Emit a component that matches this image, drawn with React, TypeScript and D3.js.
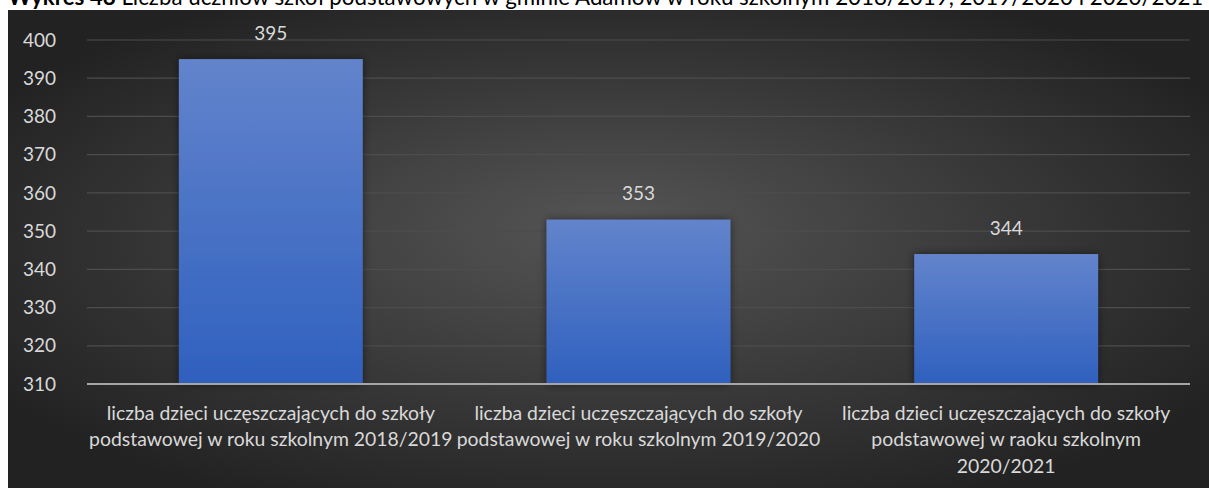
import React from "react";
import * as d3 from "d3";

const categories = [
  "liczba dzieci uczęszczających do szkoły podstawowej w roku szkolnym 2018/2019",
  "liczba dzieci uczęszczających do szkoły podstawowej w roku szkolnym 2019/2020",
  "liczba dzieci uczęszczających do szkoły podstawowej w raoku szkolnym 2020/2021",
];
const categoryLines = [
  ["liczba dzieci uczęszczających do szkoły", "podstawowej w roku szkolnym 2018/2019"],
  ["liczba dzieci uczęszczających do szkoły", "podstawowej w roku szkolnym 2019/2020"],
  ["liczba dzieci uczęszczających do szkoły", "podstawowej w raoku szkolnym", "2020/2021"],
];
const values = [395, 353, 344];
const yTicks = [310, 320, 330, 340, 350, 360, 370, 380, 390, 400];
const titleBold = "Wykres 48";
const titleRest = " Liczba uczniów szkół podstawowych w gminie Adamów w roku szkolnym 2018/2019, 2019/2020 i 2020/2021";

const W = 1209;
const H = 488;
const FONT = "Lato, 'Open Sans', sans-serif";

export default function App() {
  const left = 87, right = 1190, top = 40, bottom = 384;
  const x = d3.scaleBand<string>().domain(categories).range([left, right]).paddingInner(0.5).paddingOuter(0.25);
  const y = d3.scaleLinear().domain([310, 400]).range([bottom, top]);

  return (
    <svg width={W} height={H} style={{ position: "absolute", left: 0, top: 0 }}>
      <defs>
        <radialGradient id="bg" cx="50%" cy="50%" r="60%" fx="50%" fy="45%">
          <stop offset="0%" stopColor="#555555" />
          <stop offset="100%" stopColor="#222222" />
        </radialGradient>
        <linearGradient id="bar" x1="0" y1="0" x2="0" y2="1">
          <stop offset="0%" stopColor="#6384cc" />
          <stop offset="100%" stopColor="#2f60be" />
        </linearGradient>
        <filter id="shadow" x="-20%" y="-20%" width="140%" height="140%">
          <feDropShadow dx="0" dy="0" stdDeviation="4" floodColor="#000" floodOpacity="0.5" />
        </filter>
      </defs>
      <rect x={0} y={0} width={W} height={H} fill="#ffffff" />
      <text x={8} y={5} fontFamily={FONT} fontSize={22.3} fill="#000">
        <tspan fontWeight="bold">{titleBold}</tspan>
        <tspan>{titleRest}</tspan>
      </text>
      <rect x={8} y={10} width={W - 8} height={H - 10} fill="url(#bg)" />
      {yTicks.map((t) => (
        <g key={t}>
          {t !== 310 && (
            <line x1={left} x2={right} y1={y(t)} y2={y(t)} stroke="#4d4d4d" strokeWidth={1.2} />
          )}
          <text x={56} y={y(t)} dy="0.35em" textAnchor="end" fontFamily={FONT} fontSize={19} fill="#d9d9d9">
            {t}
          </text>
        </g>
      ))}
      {categories.map((c, i) => (
        <g key={c}>
          <rect
            x={x(c)!}
            y={y(values[i])}
            width={x.bandwidth()}
            height={bottom - y(values[i])}
            fill="url(#bar)"
            filter="url(#shadow)"
          />
          <text
            x={x(c)! + x.bandwidth() / 2}
            y={y(values[i]) - 26}
            dy="0.35em"
            textAnchor="middle"
            fontFamily={FONT}
            fontSize={19}
            fill="#d9d9d9"
          >
            {values[i]}
          </text>
          {categoryLines[i].map((ln, j) => (
            <text
              key={j}
              x={x(c)! + x.bandwidth() / 2}
              y={413 + j * 26.5}
              dy="0.35em"
              textAnchor="middle"
              fontFamily={FONT}
              fontSize={19.4}
              fill="#d9d9d9"
            >
              {ln}
            </text>
          ))}
        </g>
      ))}
      <line x1={left} x2={right} y1={bottom} y2={bottom} stroke="#a6a6a6" strokeWidth={2} />
    </svg>
  );
}
